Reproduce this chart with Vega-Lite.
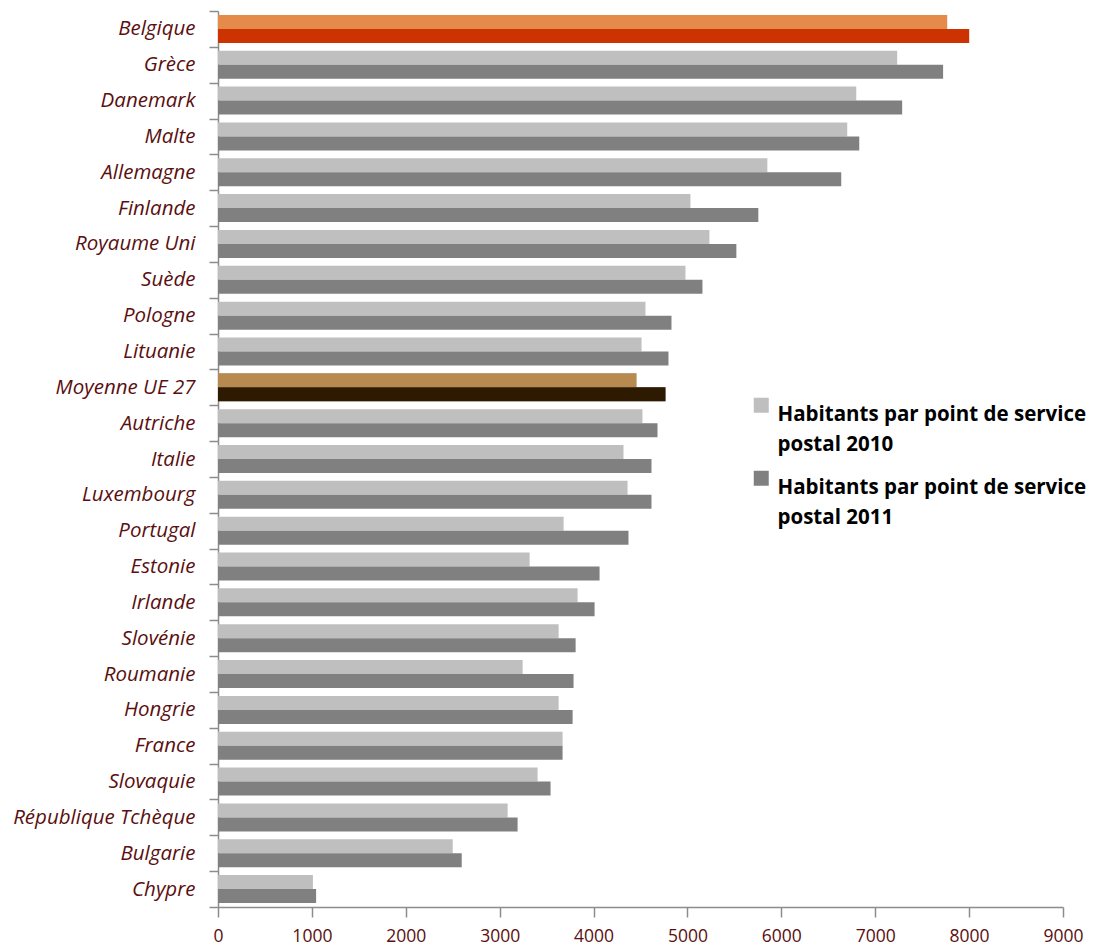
{
  "$schema": "https://vega.github.io/schema/vega-lite/v6.json",
  "autosize": {"type": "none"},
  "width": 845,
  "height": 896,
  "padding": {"left": 218, "top": 11, "right": 30, "bottom": 40},
  "background": "white",
  "config": {
    "view": {"stroke": null},
    "font": "Open Sans",
    "axis": {"grid": false}
  },
  "data": {
    "values": [
      {"pays": "Belgique", "annee": "2010", "valeur": 7766},
      {"pays": "Belgique", "annee": "2011", "valeur": 8000},
      {"pays": "Grèce", "annee": "2010", "valeur": 7234},
      {"pays": "Grèce", "annee": "2011", "valeur": 7723},
      {"pays": "Danemark", "annee": "2010", "valeur": 6798},
      {"pays": "Danemark", "annee": "2011", "valeur": 7287},
      {"pays": "Malte", "annee": "2010", "valeur": 6702},
      {"pays": "Malte", "annee": "2011", "valeur": 6830},
      {"pays": "Allemagne", "annee": "2010", "valeur": 5851},
      {"pays": "Allemagne", "annee": "2011", "valeur": 6638},
      {"pays": "Finlande", "annee": "2010", "valeur": 5032},
      {"pays": "Finlande", "annee": "2011", "valeur": 5755},
      {"pays": "Royaume Uni", "annee": "2010", "valeur": 5234},
      {"pays": "Royaume Uni", "annee": "2011", "valeur": 5521},
      {"pays": "Suède", "annee": "2010", "valeur": 4979},
      {"pays": "Suède", "annee": "2011", "valeur": 5160},
      {"pays": "Pologne", "annee": "2010", "valeur": 4553},
      {"pays": "Pologne", "annee": "2011", "valeur": 4830},
      {"pays": "Lituanie", "annee": "2010", "valeur": 4511},
      {"pays": "Lituanie", "annee": "2011", "valeur": 4798},
      {"pays": "Moyenne UE 27", "annee": "2010", "valeur": 4457},
      {"pays": "Moyenne UE 27", "annee": "2011", "valeur": 4766},
      {"pays": "Autriche", "annee": "2010", "valeur": 4521},
      {"pays": "Autriche", "annee": "2011", "valeur": 4681},
      {"pays": "Italie", "annee": "2010", "valeur": 4319},
      {"pays": "Italie", "annee": "2011", "valeur": 4617},
      {"pays": "Luxembourg", "annee": "2010", "valeur": 4362},
      {"pays": "Luxembourg", "annee": "2011", "valeur": 4617},
      {"pays": "Portugal", "annee": "2010", "valeur": 3681},
      {"pays": "Portugal", "annee": "2011", "valeur": 4372},
      {"pays": "Estonie", "annee": "2010", "valeur": 3319},
      {"pays": "Estonie", "annee": "2011", "valeur": 4064},
      {"pays": "Irlande", "annee": "2010", "valeur": 3830},
      {"pays": "Irlande", "annee": "2011", "valeur": 4011},
      {"pays": "Slovénie", "annee": "2010", "valeur": 3628},
      {"pays": "Slovénie", "annee": "2011", "valeur": 3809},
      {"pays": "Roumanie", "annee": "2010", "valeur": 3245},
      {"pays": "Roumanie", "annee": "2011", "valeur": 3787},
      {"pays": "Hongrie", "annee": "2010", "valeur": 3628},
      {"pays": "Hongrie", "annee": "2011", "valeur": 3777},
      {"pays": "France", "annee": "2010", "valeur": 3670},
      {"pays": "France", "annee": "2011", "valeur": 3670},
      {"pays": "Slovaquie", "annee": "2010", "valeur": 3404},
      {"pays": "Slovaquie", "annee": "2011", "valeur": 3542},
      {"pays": "République Tchèque", "annee": "2010", "valeur": 3085},
      {"pays": "République Tchèque", "annee": "2011", "valeur": 3191},
      {"pays": "Bulgarie", "annee": "2010", "valeur": 2500},
      {"pays": "Bulgarie", "annee": "2011", "valeur": 2596},
      {"pays": "Chypre", "annee": "2010", "valeur": 1011},
      {"pays": "Chypre", "annee": "2011", "valeur": 1045}
    ]
  },
  "encoding": {
    "y": {
      "field": "pays",
      "type": "nominal",
      "sort": null,
      "scale": {"paddingInner": 0, "paddingOuter": 0},
      "axis": {
        "title": null,
        "tickBand": "extent",
        "domainColor": "#8c8c8c",
        "domainWidth": 1.5,
        "tickColor": "#8c8c8c",
        "tickWidth": 1.5,
        "tickSize": 9,
        "labelPadding": 14,
        "labelFont": "Open Sans",
        "labelFontStyle": "italic",
        "labelFontSize": 20.5,
        "labelColor": "#5a1010",
        "labelLimit": 300
      }
    },
    "yOffset": {
      "field": "annee",
      "type": "nominal",
      "scale": {"paddingInner": 0, "paddingOuter": 0.28}
    },
    "x": {
      "field": "valeur",
      "type": "quantitative",
      "scale": {"domain": [0, 9000], "nice": false},
      "axis": {
        "title": null,
        "values": [0, 1000, 2000, 3000, 4000, 5000, 6000, 7000, 8000, 9000],
        "format": "d",
        "domainColor": "#8c8c8c",
        "domainWidth": 1.5,
        "tickColor": "#8c8c8c",
        "tickWidth": 1.5,
        "tickSize": 10,
        "labelPadding": 10,
        "labelFont": "Open Sans",
        "labelFontSize": 17.5,
        "labelColor": "#5a1010",
        "labelFlush": false
      }
    }
  },
  "layer": [
    {
      "mark": {"type": "bar"},
      "encoding": {
        "color": {
          "field": "annee",
          "type": "nominal",
          "scale": {"domain": ["2010", "2011"], "range": ["#bfbfbf", "#808080"]},
          "legend": {
            "orient": "none",
            "legendX": 533,
            "legendY": 384,
            "title": null,
            "padding": 0,
            "symbolType": "square",
            "symbolSize": 225,
            "symbolStrokeWidth": 0,
            "labelExpr": "['Habitants par point de service', 'postal ' + datum.label]",
            "labelFont": "Open Sans",
            "labelFontSize": 20.5,
            "labelFontWeight": "bold",
            "labelColor": "#000000",
            "labelLimit": 400,
            "labelBaseline": "top",
            "labelOffset": 6,
            "rowPadding": 12,
            "encode": {
              "labels": {"update": {"lineHeight": {"value": 30}}}
            }
          }
        }
      }
    },
    {
      "transform": [{"filter": "datum.pays === 'Belgique'"}],
      "mark": {"type": "bar"},
      "encoding": {
        "color": {
          "field": "annee",
          "type": "nominal",
          "scale": {"domain": ["2010", "2011"], "range": ["#e48a4a", "#cc3300"]},
          "legend": null
        }
      }
    },
    {
      "transform": [{"filter": "datum.pays === 'Moyenne UE 27'"}],
      "mark": {"type": "bar"},
      "encoding": {
        "color": {
          "field": "annee",
          "type": "nominal",
          "scale": {"domain": ["2010", "2011"], "range": ["#b88a4f", "#2e1a00"]},
          "legend": null
        }
      }
    }
  ],
  "resolve": {"scale": {"color": "independent"}}
}
